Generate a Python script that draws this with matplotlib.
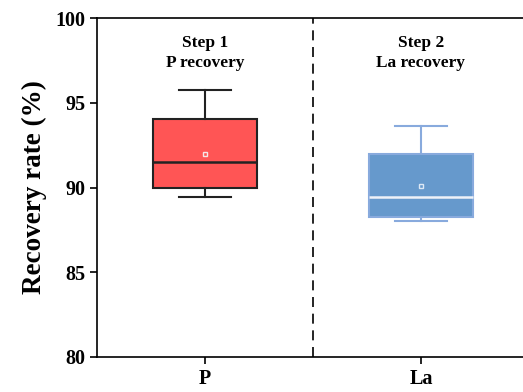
import matplotlib
matplotlib.use("Agg")
import matplotlib.pyplot as plt

categories = ["P", "La"]
q1 = [90.0, 88.25]
median = [91.5, 89.45]
q3 = [94.05, 92.0]
whislo = [89.45, 88.0]
whishi = [95.75, 93.6]
means = [92.0, 90.1]
step_labels = ["Step 1\nP recovery", "Step 2\nLa recovery"]

plt.rcParams['font.family'] = ['Liberation Serif', 'DejaVu Serif']
plt.rcParams['font.weight'] = 'bold'

fig = plt.figure(figsize=(5.23, 3.92), dpi=100)
ax = fig.add_axes([97/523, (392-357)/392, (529-97)/523, (357-18)/392])

face = ["#FF5555", "#6699CC"]
edge = ["#222222", "#88AADD"]
med_c = ["#222222", "#EEF2F8"]
positions = [1, 2]
for i in range(2):
    st = [dict(med=median[i], q1=q1[i], q3=q3[i], whislo=whislo[i], whishi=whishi[i],
               mean=means[i], fliers=[], label=categories[i])]
    ax.bxp(st, positions=[positions[i]], widths=0.48, patch_artist=True, showmeans=True,
           boxprops=dict(facecolor=face[i], edgecolor=edge[i], linewidth=1.5),
           medianprops=dict(color=med_c[i], linewidth=1.8),
           whiskerprops=dict(color=edge[i] if i else "#222222", linewidth=1.5),
           capprops=dict(color=edge[i] if i else "#222222", linewidth=1.5),
           meanprops=dict(marker='s', markersize=3.5, markerfacecolor='none',
                          markeredgecolor='#F5E6E6' if i == 0 else '#DDE8F5', markeredgewidth=1))

ax.axvline(1.5, color='black', linestyle=(0, (6, 4)), linewidth=1.2)
ax.set_xlim(0.5, 2.5)
ax.set_ylim(80, 100)
ax.set_yticks([80, 85, 90, 95, 100])
ax.set_xticks(positions)
ax.set_xticklabels(categories)
ax.tick_params(axis='both', labelsize=14.5, width=1.2, length=5, direction='out')
for lab in ax.get_xticklabels() + ax.get_yticklabels():
    lab.set_fontweight('bold')
ax.set_ylabel("Recovery rate (%)", fontsize=19.5, fontweight='bold', labelpad=6)
for s in ax.spines.values():
    s.set_linewidth(1.2)

for i, t in enumerate(step_labels):
    ax.text(positions[i], 97.95, t, ha='center', va='center', fontsize=12.5,
            fontweight='bold', linespacing=1.35)

fig.savefig("out.png", dpi=100)
